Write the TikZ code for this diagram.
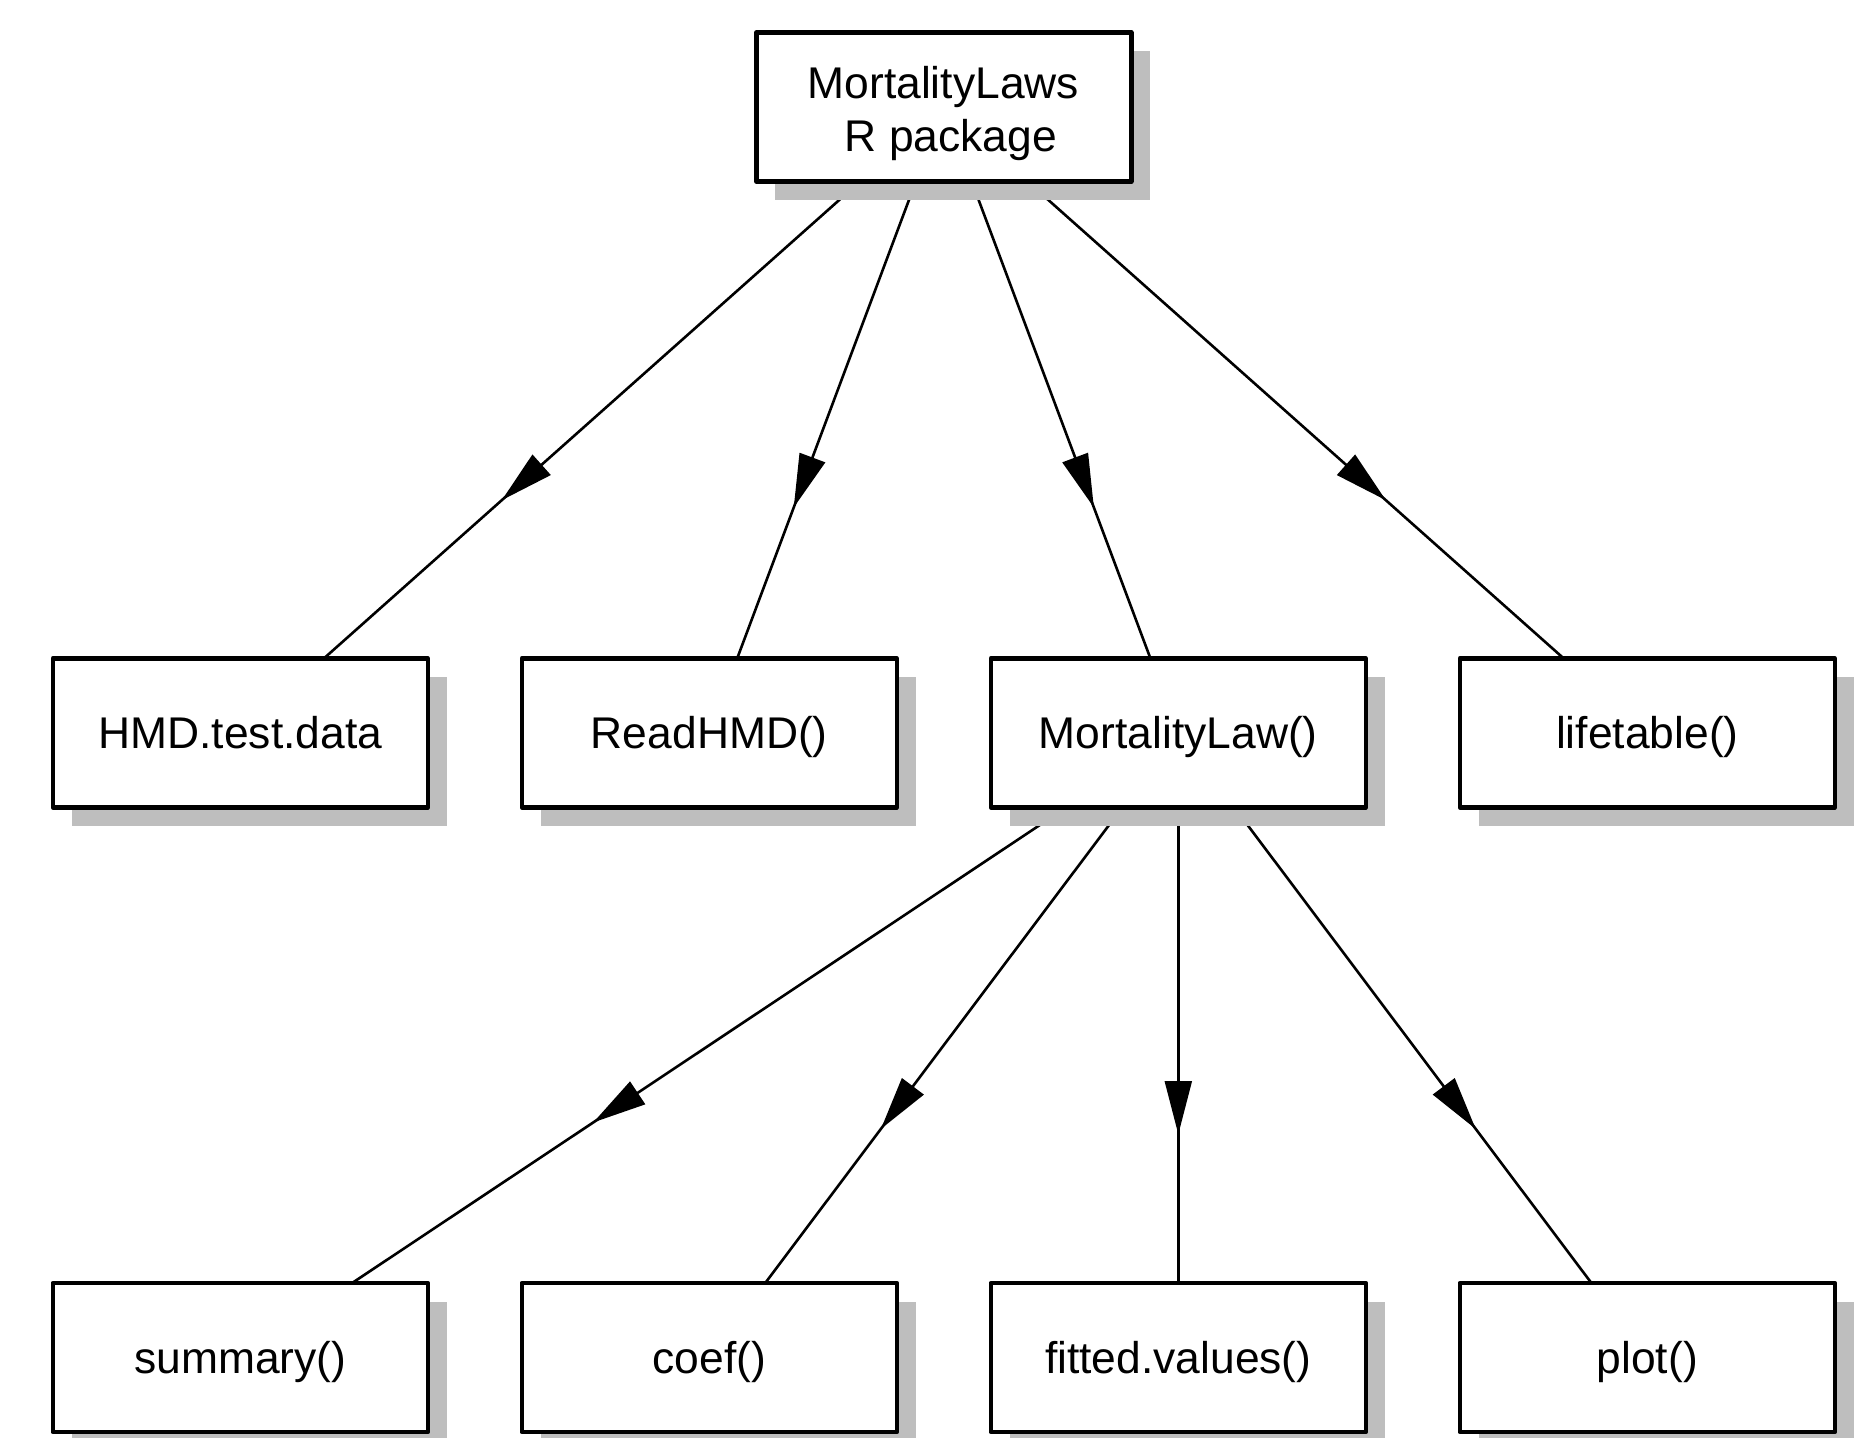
\documentclass[tikz,border=0pt]{standalone}
\usepackage{fontspec}
\setmainfont{Liberation Sans}
\usetikzlibrary{shadows,decorations.markings}
\pgfdeclarelayer{background}
\pgfsetlayers{background,main}
\definecolor{shadowgray}{RGB}{190,190,190}
\begin{document}
\begin{tikzpicture}[x=0.5pt,y=-0.5pt,
  txt/.style={font=\fontsize{22.2}{26.7}\selectfont, text height=15.9pt, text depth=0pt},
  box/.style={txt, draw=black, line width=2.25pt, line join=round, fill=white, rectangle,
    minimum width=187.5pt, minimum height=74.5pt, inner sep=0pt,
    drop shadow={shadow xshift=9.5pt, shadow yshift=-9.5pt, fill=shadowgray, opacity=1}},
  lbl/.style={txt, inner sep=0pt},
  link/.style={line width=1.3pt, postaction=decorate,
    decoration={markings, mark=at position 0.6 with {\fill[black] (13.3pt,0pt) -- (-13.3pt,6.9pt) -- (-13.3pt,-6.9pt) -- cycle;}}}
]
\useasboundingbox (0,0) rectangle (1857,1438);

\node[box] (top) at (943.8,107) {};
\node[lbl] (topa) at (943.3,82.2) {MortalityLaws};
\node[lbl] (topb) at (950.8,135.8) {R package};

\node[box] (hmd) at (240.3,732.8) {HMD.test.data};
\node[box] (read) at (709.3,732.8) {ReadHMD()};
\node[box] (mlaw) at (1178.3,732.8) {MortalityLaw()};
\node[box] (life) at (1647.3,732.8) {lifetable()};

\node[box] (summ) at (240.3,1357.5) {summary()};
\node[box] (coef) at (709.3,1357.5) {coef()};
\node[box] (fitv) at (1178.3,1357.5) {fitted.values()};
\node[box] (plot) at (1647.3,1357.5) {plot()};

\begin{pgfonlayer}{background}
\draw[link] (top.center) -- (hmd.center);
\draw[link] (top.center) -- (read.center);
\draw[link] (top.center) -- (mlaw.center);
\draw[link] (top.center) -- (life.center);
\draw[link] (mlaw.center) -- (summ.center);
\draw[link] (mlaw.center) -- (coef.center);
\draw[link] (mlaw.center) -- (fitv.center);
\draw[link] (mlaw.center) -- (plot.center);
\end{pgfonlayer}
\end{tikzpicture}
\end{document}
